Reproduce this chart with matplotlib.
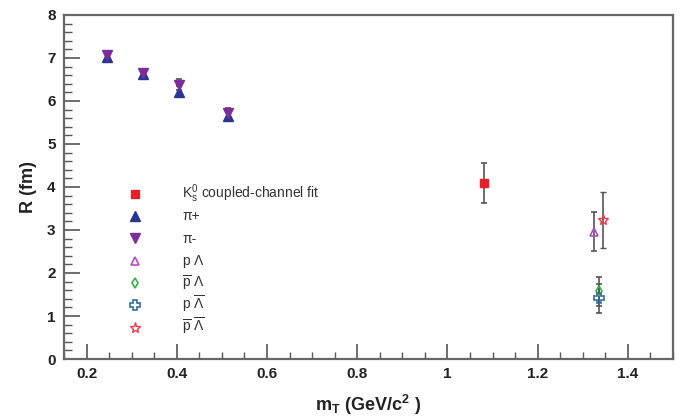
import matplotlib
matplotlib.use("Agg")
import matplotlib.pyplot as plt
from matplotlib.ticker import MultipleLocator

plt.rcParams['font.family'] = ['Liberation Sans', 'DejaVu Sans']
plt.rcParams['mathtext.fontset'] = 'custom'
plt.rcParams['mathtext.rm'] = 'Liberation Sans'
plt.rcParams['mathtext.it'] = 'Liberation Sans'
plt.rcParams['mathtext.bf'] = 'Liberation Sans:bold'

# data
pip_x = [0.245, 0.325, 0.406, 0.513]
pip_y = [7.03, 6.62, 6.22, 5.65]
pip_e = [0.08, 0.08, 0.12, 0.12]
pim_x = [0.245, 0.325, 0.406, 0.513]
pim_y = [7.06, 6.65, 6.38, 5.72]
pim_e = [0.08, 0.08, 0.12, 0.12]
k0_x = [1.08]; k0_y = [4.09]; k0_e = [0.47]
pL_x = [1.325]; pL_y = [2.96]; pL_e = [0.46]
apL_x = [1.336]; apL_y = [1.57]; apL_e = [0.33]
pAL_x = [1.336]; pAL_y = [1.41]; pAL_e = [0.34]
apAL_x = [1.345]; apAL_y = [3.23]; apAL_e = [0.65]

labels = [
    r'K$^0_\mathrm{s}$ coupled-channel fit',
    'π+',
    'π-',
    r'p $\Lambda$',
    r'$\overline{\mathrm{p}}$ $\Lambda$',
    r'p $\overline{\Lambda}$',
    r'$\overline{\mathrm{p}}$ $\overline{\Lambda}$',
]

fig = plt.figure(figsize=(6.86, 4.16), dpi=100)
ax = fig.add_axes([0.0933, 0.137, 0.8877, 0.827])

ecol = '#555555'
kw = dict(ls='none', ecolor=ecol, elinewidth=1.2, capsize=2.5, capthick=1.2)

styles = [
    dict(marker='s', ms=6, color='#e5202a', mec='#e5202a'),
    dict(marker='^', ms=7.5, color='#2a358f', mec='#2a358f'),
    dict(marker='v', ms=7.5, color='#7a2e9c', mec='#7a2e9c'),
    dict(marker='^', ms=6, mfc='none', mec='#b04fc4', mew=1.2),
    dict(marker='d', ms=5.5, mfc='none', mec='#38b04a', mew=1.2),
    dict(marker='P', ms=6.5, mfc='none', mec='#356c9c', mew=1.2),
    dict(marker='*', ms=8, mfc='none', mec='#ee3a4c', mew=1.0),
]

ax.errorbar(k0_x, k0_y, yerr=k0_e, **styles[0], **kw)
ax.errorbar(pip_x, pip_y, yerr=pip_e, **styles[1], **kw)
ax.errorbar(pim_x, pim_y, yerr=pim_e, **styles[2], **kw)
ax.errorbar(pL_x, pL_y, yerr=pL_e, **styles[3], **kw)
ax.errorbar(apL_x, apL_y, yerr=apL_e, **styles[4], **kw)
ax.errorbar(pAL_x, pAL_y, yerr=pAL_e, **styles[5], **kw)
ax.errorbar(apAL_x, apAL_y, yerr=apAL_e, **styles[6], **kw)

ax.set_xlim(0.15, 1.5)
ax.set_ylim(0, 8)
ax.xaxis.set_minor_locator(MultipleLocator(0.05))
ax.yaxis.set_major_locator(MultipleLocator(1))
ax.yaxis.set_minor_locator(MultipleLocator(0.2))
ax.set_xticks([0.2, 0.4, 0.6, 0.8, 1.0, 1.2, 1.4])
ax.set_xticklabels(['0.2', '0.4', '0.6', '0.8', '1', '1.2', '1.4'])
ax.tick_params(which='both', direction='in', top=False, right=False, colors='#555555',
               labelcolor='#222222', labelsize=11)
ax.tick_params(axis='x', which='major', length=11, width=1.2, pad=6)
ax.tick_params(axis='x', which='minor', length=5, width=1.0)
ax.tick_params(axis='y', which='major', length=11.5, width=1.2, pad=6)
ax.tick_params(axis='y', which='minor', length=6, width=1.0)
for lab in ax.get_xticklabels() + ax.get_yticklabels():
    lab.set_fontweight('bold')
for s in ax.spines.values():
    s.set_color('#666666')
    s.set_linewidth(1.6)

ax.set_ylabel('R (fm)', fontsize=13, fontweight='bold', color='#222222', labelpad=7)
ax.set_xlabel(r'm$_\mathbf{T}$ (GeV/c$^\mathbf{2}$ )', fontsize=13, fontweight='bold',
              color='#222222', labelpad=8)

# legend drawn row by row in axes coordinates
leg_top = 0.48      # axes fraction of first row centre
leg_step = 0.0648   # row spacing in axes fraction
key_x, text_x = 0.1166, 0.1938
for i, (st, lab) in enumerate(zip(styles, labels)):
    yy = leg_top - i * leg_step
    ax.plot([key_x], [yy], ls='none', transform=ax.transAxes, clip_on=False, **st)
    ax.text(text_x, yy - 0.012, lab, transform=ax.transAxes, fontsize=10,
            color='#333333', va='baseline', ha='left')

fig.savefig('out.png', dpi=100)
